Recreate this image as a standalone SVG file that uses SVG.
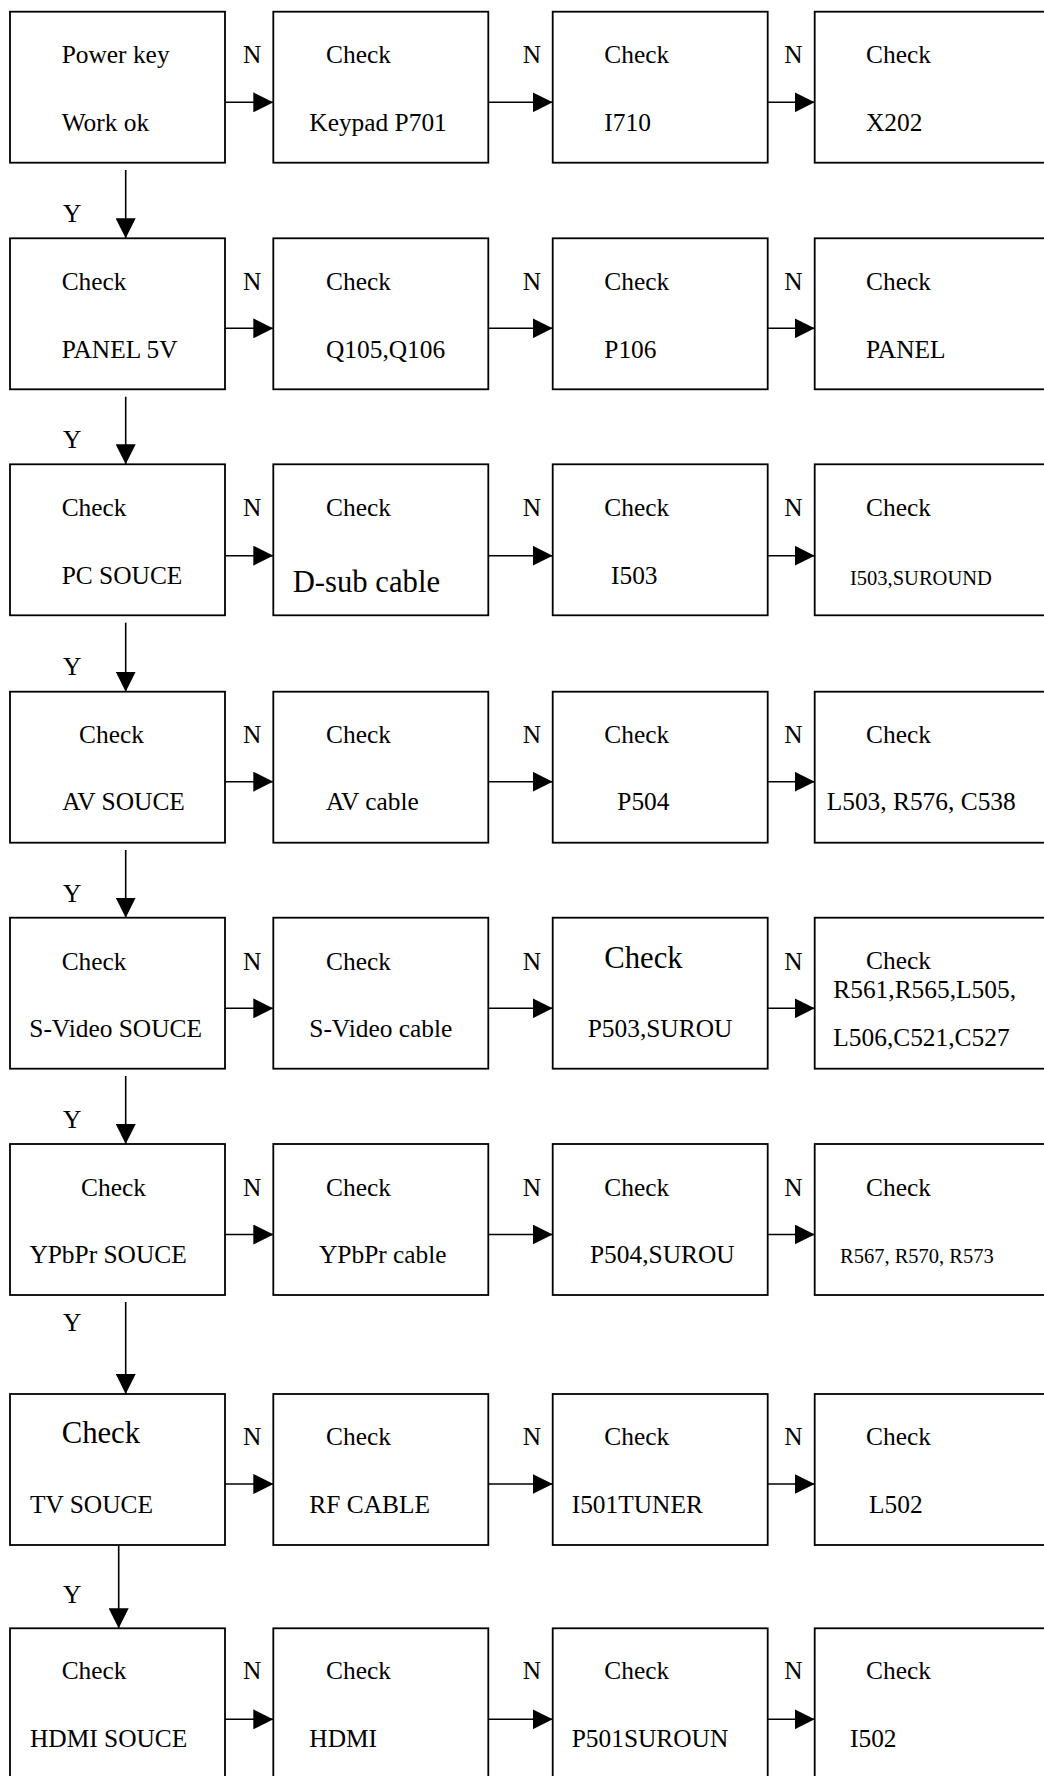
<svg xmlns="http://www.w3.org/2000/svg" width="1044" height="1776" viewBox="0 0 1044 1776">
<style>
  .box{fill:#fff;stroke:#000;stroke-width:1.8}
  text{font-family:"Liberation Serif","Times New Roman",serif;font-size:25.4px;fill:#000}
  .big{font-size:30.7px}
  .sm{font-size:20.5px}
  .con{stroke:#000;stroke-width:1.6;fill:none;marker-end:url(#ah)}
</style>
<defs>
  <marker id="ah" markerUnits="userSpaceOnUse" markerWidth="20" markerHeight="20" refX="20" refY="10" orient="auto">
    <path d="M0,0 L20,10 L0,20 Z" fill="#000"/>
  </marker>
</defs>

<g id="connectors">
  <!-- row 1 -->
  <line class="con" x1="225" y1="102.3" x2="273.3" y2="102.3"/>
  <line class="con" x1="488.3" y1="102.3" x2="552.7" y2="102.3"/>
  <line class="con" x1="767.7" y1="102.3" x2="814.7" y2="102.3"/>
  <line class="con" x1="125.7" y1="170" x2="125.7" y2="238.3"/>
  <!-- row 2 -->
  <line class="con" x1="225" y1="328.3" x2="273.3" y2="328.3"/>
  <line class="con" x1="488.3" y1="328.3" x2="552.7" y2="328.3"/>
  <line class="con" x1="767.7" y1="328.3" x2="814.7" y2="328.3"/>
  <line class="con" x1="125.7" y1="396.7" x2="125.7" y2="464.3"/>
  <!-- row 3 -->
  <line class="con" x1="225" y1="555.7" x2="273.3" y2="555.7"/>
  <line class="con" x1="488.3" y1="555.7" x2="552.7" y2="555.7"/>
  <line class="con" x1="767.7" y1="555.7" x2="814.7" y2="555.7"/>
  <line class="con" x1="125.7" y1="622.7" x2="125.7" y2="691.7"/>
  <!-- row 4 -->
  <line class="con" x1="225" y1="781.7" x2="273.3" y2="781.7"/>
  <line class="con" x1="488.3" y1="781.7" x2="552.7" y2="781.7"/>
  <line class="con" x1="767.7" y1="781.7" x2="814.7" y2="781.7"/>
  <line class="con" x1="125.7" y1="850" x2="125.7" y2="917.7"/>
  <!-- row 5 -->
  <line class="con" x1="225" y1="1008.3" x2="273.3" y2="1008.3"/>
  <line class="con" x1="488.3" y1="1008.3" x2="552.7" y2="1008.3"/>
  <line class="con" x1="767.7" y1="1008.3" x2="814.7" y2="1008.3"/>
  <line class="con" x1="125.7" y1="1076" x2="125.7" y2="1144"/>
  <!-- row 6 -->
  <line class="con" x1="225" y1="1234.5" x2="273.3" y2="1234.5"/>
  <line class="con" x1="488.3" y1="1234.5" x2="552.7" y2="1234.5"/>
  <line class="con" x1="767.7" y1="1234.5" x2="814.7" y2="1234.5"/>
  <line class="con" x1="125.7" y1="1302" x2="125.7" y2="1394"/>
  <!-- row 7 -->
  <line class="con" x1="225" y1="1484" x2="273.3" y2="1484"/>
  <line class="con" x1="488.3" y1="1484" x2="552.7" y2="1484"/>
  <line class="con" x1="767.7" y1="1484" x2="814.7" y2="1484"/>
  <line class="con" x1="118.7" y1="1542.7" x2="118.7" y2="1628.3"/>
  <!-- row 8 -->
  <line class="con" x1="225" y1="1719.3" x2="273.3" y2="1719.3"/>
  <line class="con" x1="488.3" y1="1719.3" x2="552.7" y2="1719.3"/>
  <line class="con" x1="767.7" y1="1719.3" x2="814.7" y2="1719.3"/>
</g>

<g id="labels">
  <text x="243" y="63.3">N</text><text x="522.7" y="63.3">N</text><text x="784.3" y="63.3">N</text>
  <text x="243" y="290">N</text><text x="522.7" y="290">N</text><text x="784.3" y="290">N</text>
  <text x="243" y="516">N</text><text x="522.7" y="516">N</text><text x="784.3" y="516">N</text>
  <text x="243" y="742.7">N</text><text x="522.7" y="742.7">N</text><text x="784.3" y="742.7">N</text>
  <text x="243" y="969.5">N</text><text x="522.7" y="969.5">N</text><text x="784.3" y="969.5">N</text>
  <text x="243" y="1195.5">N</text><text x="522.7" y="1195.5">N</text><text x="784.3" y="1195.5">N</text>
  <text x="243" y="1445">N</text><text x="522.7" y="1445">N</text><text x="784.3" y="1445">N</text>
  <text x="243" y="1679.3">N</text><text x="522.7" y="1679.3">N</text><text x="784.3" y="1679.3">N</text>
  <text x="63" y="221.7">Y</text>
  <text x="63" y="448.3">Y</text>
  <text x="63" y="675">Y</text>
  <text x="63" y="901.7">Y</text>
  <text x="63" y="1128.3">Y</text>
  <text x="63" y="1331">Y</text>
  <text x="63" y="1603.3">Y</text>
</g>

<!-- Row 1 -->
<g id="r1c1"><rect class="box" x="10" y="11.7" width="215" height="151"/><text x="61.7" y="63.3">Power key</text><text x="61.7" y="130.7">Work ok</text></g>
<g id="r1c2"><rect class="box" x="273.3" y="11.7" width="215" height="151"/><text x="326" y="63.3">Check</text><text x="309.3" y="130.7">Keypad P701</text></g>
<g id="r1c3"><rect class="box" x="552.7" y="11.7" width="215" height="151"/><text x="604.3" y="63.3">Check</text><text x="604.3" y="130.7">I710</text></g>
<g id="r1c4"><rect class="box" x="814.7" y="11.7" width="250" height="151"/><text x="866" y="63.3">Check</text><text x="866" y="130.7">X202</text></g>

<!-- Row 2 -->
<g id="r2c1"><rect class="box" x="10" y="238.3" width="215" height="151"/><text x="61.7" y="290">Check</text><text x="61.7" y="357.7">PANEL 5V</text></g>
<g id="r2c2"><rect class="box" x="273.3" y="238.3" width="215" height="151"/><text x="326" y="290">Check</text><text x="326" y="357.7">Q105,Q106</text></g>
<g id="r2c3"><rect class="box" x="552.7" y="238.3" width="215" height="151"/><text x="604.3" y="290">Check</text><text x="604.3" y="357.7">P106</text></g>
<g id="r2c4"><rect class="box" x="814.7" y="238.3" width="250" height="151"/><text x="866" y="290">Check</text><text x="866" y="357.7">PANEL</text></g>

<!-- Row 3 -->
<g id="r3c1"><rect class="box" x="10" y="464.3" width="215" height="151"/><text x="61.7" y="516">Check</text><text x="61.7" y="584">PC SOUCE</text></g>
<g id="r3c2"><rect class="box" x="273.3" y="464.3" width="215" height="151"/><text x="326" y="516">Check</text><text class="big" x="292.7" y="591.7">D-sub cable</text></g>
<g id="r3c3"><rect class="box" x="552.7" y="464.3" width="215" height="151"/><text x="604.3" y="516">Check</text><text x="611" y="584">I503</text></g>
<g id="r3c4"><rect class="box" x="814.7" y="464.3" width="250" height="151"/><text x="866" y="516">Check</text><text class="sm" x="850" y="585">I503,SUROUND</text></g>

<!-- Row 4 -->
<g id="r4c1"><rect class="box" x="10" y="691.7" width="215" height="151"/><text x="79" y="742.7">Check</text><text x="62.3" y="810">AV SOUCE</text></g>
<g id="r4c2"><rect class="box" x="273.3" y="691.7" width="215" height="151"/><text x="326" y="742.7">Check</text><text x="326" y="810">AV cable</text></g>
<g id="r4c3"><rect class="box" x="552.7" y="691.7" width="215" height="151"/><text x="604.3" y="742.7">Check</text><text x="617.3" y="810">P504</text></g>
<g id="r4c4"><rect class="box" x="814.7" y="691.7" width="250" height="151"/><text x="866" y="742.7">Check</text><text x="826.7" y="810">L503, R576, C538</text></g>

<!-- Row 5 -->
<g id="r5c1"><rect class="box" x="10" y="917.7" width="215" height="151"/><text x="61.7" y="969.5">Check</text><text x="29.3" y="1037.3">S-Video SOUCE</text></g>
<g id="r5c2"><rect class="box" x="273.3" y="917.7" width="215" height="151"/><text x="326" y="969.5">Check</text><text x="309.3" y="1037.3">S-Video cable</text></g>
<g id="r5c3"><rect class="box" x="552.7" y="917.7" width="215" height="151"/><text class="big" x="604.3" y="967.7">Check</text><text x="587.7" y="1037.3">P503,SUROU</text></g>
<g id="r5c4"><rect class="box" x="814.7" y="917.7" width="250" height="151"/><text x="866" y="969.3">Check</text><text x="833.3" y="998.3">R561,R565,L505,</text><text x="833.3" y="1045.7">L506,C521,C527</text></g>

<!-- Row 6 -->
<g id="r6c1"><rect class="box" x="10" y="1144" width="215" height="151"/><text x="81" y="1195.5">Check</text><text x="29.4" y="1263">YPbPr SOUCE</text></g>
<g id="r6c2"><rect class="box" x="273.3" y="1144" width="215" height="151"/><text x="326" y="1195.5">Check</text><text x="319" y="1263">YPbPr cable</text></g>
<g id="r6c3"><rect class="box" x="552.7" y="1144" width="215" height="151"/><text x="604.3" y="1195.5">Check</text><text x="590" y="1263">P504,SUROU</text></g>
<g id="r6c4"><rect class="box" x="814.7" y="1144" width="250" height="151"/><text x="866" y="1195.5">Check</text><text class="sm" x="840" y="1263">R567, R570, R573</text></g>

<!-- Row 7 -->
<g id="r7c1"><rect class="box" x="10" y="1394" width="215" height="151"/><text class="big" x="61.7" y="1443.3">Check</text><text x="30" y="1512.7">TV SOUCE</text></g>
<g id="r7c2"><rect class="box" x="273.3" y="1394" width="215" height="151"/><text x="326" y="1445">Check</text><text x="309.3" y="1512.7">RF CABLE</text></g>
<g id="r7c3"><rect class="box" x="552.7" y="1394" width="215" height="151"/><text x="604.3" y="1445">Check</text><text x="571.7" y="1512.7">I501TUNER</text></g>
<g id="r7c4"><rect class="box" x="814.7" y="1394" width="250" height="151"/><text x="866" y="1445">Check</text><text x="869" y="1512.7">L502</text></g>

<!-- Row 8 -->
<g id="r8c1"><rect class="box" x="10" y="1628.3" width="215" height="160"/><text x="61.7" y="1679.3">Check</text><text x="30" y="1747.3">HDMI SOUCE</text></g>
<g id="r8c2"><rect class="box" x="273.3" y="1628.3" width="215" height="160"/><text x="326" y="1679.3">Check</text><text x="309.3" y="1747.3">HDMI</text></g>
<g id="r8c3"><rect class="box" x="552.7" y="1628.3" width="215" height="160"/><text x="604.3" y="1679.3">Check</text><text x="571.7" y="1747.3">P501SUROUN</text></g>
<g id="r8c4"><rect class="box" x="814.7" y="1628.3" width="250" height="160"/><text x="866" y="1679.3">Check</text><text x="850" y="1747.3">I502</text></g>
</svg>
